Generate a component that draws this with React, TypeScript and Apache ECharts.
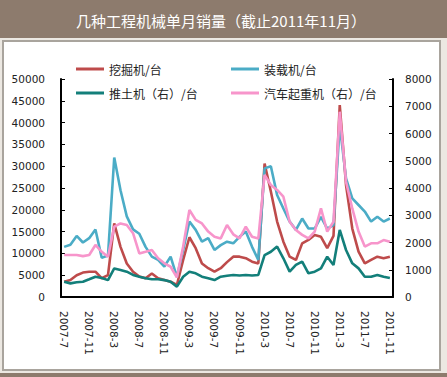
import React, { useEffect, useRef } from "react";
import * as echarts from "echarts";

const months: string[] = [
  "2007-7","2007-8","2007-9","2007-10","2007-11","2007-12",
  "2008-1","2008-2","2008-3","2008-4","2008-5","2008-6","2008-7","2008-8","2008-9","2008-10","2008-11","2008-12",
  "2009-1","2009-2","2009-3","2009-4","2009-5","2009-6","2009-7","2009-8","2009-9","2009-10","2009-11","2009-12",
  "2010-1","2010-2","2010-3","2010-4","2010-5","2010-6","2010-7","2010-8","2010-9","2010-10","2010-11","2010-12",
  "2011-1","2011-2","2011-3","2011-4","2011-5","2011-6","2011-7","2011-8","2011-9","2011-10","2011-11",
];

const excavator: number[] = [
  3500, 3900, 5000, 5600, 5800, 5800, 4300, 5000, 16900, 11500, 7700, 5800, 4700,
  4300, 5400, 4300, 3900, 3500, 2750, 8500, 13700, 11200, 7700, 6600, 5800, 6600, 8000,
  9250, 9250, 8900, 8100, 7700, 30600, 24200, 17300, 12700, 9250, 8500, 12300, 13100, 14200,
  13800, 11200, 14000, 44000, 25700, 15700, 10400, 7700, 8500, 9250, 8900, 9250,
];

const loader: number[] = [
  11500, 12000, 14000, 12500, 13500, 15500, 9000, 9500, 32000, 24500, 18500, 15500, 14500,
  11500, 9250, 8500, 7000, 9250, 4600, 10800, 17300, 15400, 12700, 13500, 10800, 11900, 12700,
  12300, 13800, 15000, 11500, 8500, 29500, 30000, 23400, 20300, 17300, 15400, 18000, 15700, 15700,
  18400, 15700, 16500, 39500, 27200, 22600, 21100, 19600, 17300, 18400, 17300, 18000,
];

const bulldozer: number[] = [
  560, 500, 540, 560, 650, 745, 700, 620, 1050, 990, 930, 810, 745,
  685, 650, 650, 620, 560, 380, 745, 930, 870, 745, 685, 620, 745, 780,
  810, 790, 810, 790, 810, 1540, 1660, 1850, 1420, 930, 1175, 1300, 870, 930,
  1050, 1480, 1175, 2460, 1725, 1235, 1050, 745, 745, 810, 745, 700,
];

const crane: number[] = [
  1540, 1540, 1540, 1500, 1540, 1910, 1660, 1480, 2580, 2700, 2640, 2340, 1600,
  1660, 1725, 1420, 1235, 1110, 720, 1850, 3190, 2830, 2700, 2400, 2210, 2150, 2640,
  2300, 2150, 2580, 2210, 2150, 4480, 4110, 3930, 3680, 2760, 2460, 2280, 2150, 2400,
  3250, 2400, 2760, 6800, 4230, 3250, 2400, 1850, 1970, 1970, 2090, 2030,
];

const names = ["挖掘机/台", "装载机/台", "推土机（右）/台", "汽车起重机（右）/台"];
const colors = ["#BE4B4B", "#4BACC6", "#137F7A", "#F795CB"];

const tickFont = { fontFamily: "DejaVu Sans", fontSize: 10.5, color: "#222" };
const plain = (v: number) => String(v);

export default function App() {
  const ref = useRef<HTMLDivElement>(null);
  useEffect(() => {
    if (!ref.current) return;
    const chart = echarts.init(ref.current, null, { renderer: "svg" });
    const mk = (i: number, data: number[], yIdx: number) => ({
      name: names[i],
      type: "line",
      yAxisIndex: yIdx,
      data,
      symbol: "none",
      lineStyle: { color: colors[i], width: 2.6 },
      itemStyle: { color: colors[i] },
    });
    const legendBase = {
      orient: "vertical", top: 61, padding: 0,
      icon: "rect", itemWidth: 28, itemHeight: 3, itemGap: 8,
      textStyle: { fontFamily: "Noto Sans CJK SC", fontSize: 12, color: "#222", lineHeight: 16 },
    };
    chart.setOption({
      animation: false,
      backgroundColor: "#ECE8E2",
      graphic: [
        { type: "rect", shape: { x: 0, y: 0, width: 447, height: 38 }, style: { fill: "#8D7B6D" }, silent: true },
        { type: "rect", shape: { x: 3, y: 41, width: 437, height: 329 }, style: { fill: "#ffffff", stroke: "#A9A49D", lineWidth: 2 }, silent: true, z: -10 },
        { type: "rect", shape: { x: 0, y: 373, width: 447, height: 4 }, style: { fill: "#8D7B6D" }, silent: true },
        {
          type: "text", x: 221, y: 20,
          style: {
            text: "几种工程机械单月销量（截止2011年11月）",
            fill: "#ffffff", font: "15px 'Noto Sans CJK SC'",
            textAlign: "center", textVerticalAlign: "middle",
          },
          silent: true,
        },
      ],
      legend: [
        { ...legendBase, data: [names[0], names[2]], left: 76 },
        { ...legendBase, data: [names[1], names[3]], left: 231 },
      ],
      grid: { left: 61, right: 54, top: 79, bottom: 80, containLabel: false },
      xAxis: {
        type: "category",
        data: months,
        boundaryGap: true,
        axisLine: { lineStyle: { color: "#000", width: 2 } },
        axisTick: { inside: true, length: 4, interval: 0, lineStyle: { color: "#000" } },
        axisLabel: { ...tickFont, interval: 3, rotate: -90, margin: 14 },
      },
      yAxis: [
        {
          type: "value", min: 0, max: 50000, interval: 5000, position: "left",
          axisLine: { show: true, lineStyle: { color: "#000", width: 2 } },
          axisTick: { show: true, inside: true, length: 4, lineStyle: { color: "#000" } },
          splitLine: { show: false },
          axisLabel: { ...tickFont, margin: 16, formatter: plain },
        },
        {
          type: "value", min: 0, max: 8000, interval: 1000, position: "right",
          axisLine: { show: true, lineStyle: { color: "#000", width: 2 } },
          axisTick: { show: true, inside: true, length: 4, lineStyle: { color: "#000" } },
          splitLine: { show: false },
          axisLabel: { ...tickFont, margin: 12, formatter: plain },
        },
      ],
      series: [
        mk(0, excavator, 0),
        mk(1, loader, 0),
        mk(2, bulldozer, 1),
        mk(3, crane, 1),
      ],
    });
    return () => chart.dispose();
  }, []);
  return <div ref={ref} style={{ position: "fixed", left: 0, top: 0, width: 447, height: 377 }} />;
}
